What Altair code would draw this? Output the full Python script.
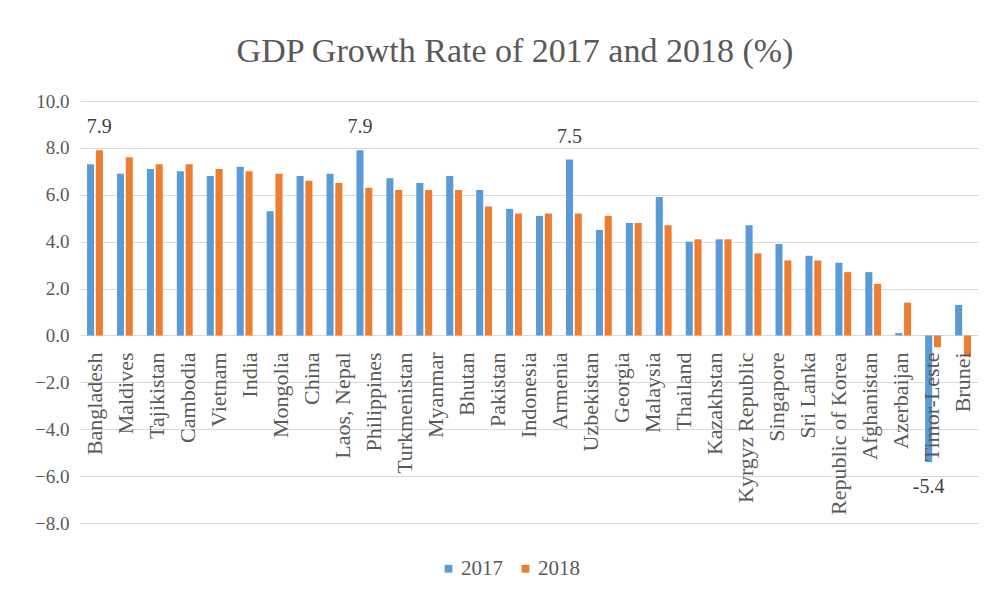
import altair as alt
import pandas as pd

countries = ["Bangladesh", "Maldives", "Tajikistan", "Cambodia", "Vietnam", "India",
             "Mongolia", "China", "Laos", "Nepal", "Philippines", "Turkmenistan",
             "Myanmar", "Bhutan", "Pakistan", "Indonesia", "Armenia", "Uzbekistan",
             "Georgia", "Malaysia", "Thailand", "Kazakhstan", "Kyrgyz Republic",
             "Singapore", "Sri Lanka", "Republic of Korea", "Afghanistan",
             "Azerbaijan", "Timor-Leste", "Brunei"]
g2017 = [7.3, 6.9, 7.1, 7.0, 6.8, 7.2, 5.3, 6.8, 6.9, 7.9, 6.7, 6.5, 6.8, 6.2, 5.4,
         5.1, 7.5, 4.5, 4.8, 5.9, 4.0, 4.1, 4.7, 3.9, 3.4, 3.1, 2.7, 0.1, -5.4, 1.3]
g2018 = [7.9, 7.6, 7.3, 7.3, 7.1, 7.0, 6.9, 6.6, 6.5, 6.3, 6.2, 6.2, 6.2, 5.5, 5.2,
         5.2, 5.2, 5.1, 4.8, 4.7, 4.1, 4.1, 3.5, 3.2, 3.2, 2.7, 2.2, 1.4, -0.5, -0.9]
labels2017 = {"Nepal": "7.9", "Armenia": "7.5", "Timor-Leste": "-5.4"}
labels2018 = {"Bangladesh": "7.9"}
years = ["2017", "2018"]
tick_labels = ["Bangladesh", "Maldives", "Tajikistan", "Cambodia", "Vietnam", "India",
               "Mongolia", "China", "Laos, Nepal", "Philippines", "Turkmenistan",
               "Myanmar", "Bhutan", "Pakistan", "Indonesia", "Armenia", "Uzbekistan",
               "Georgia", "Malaysia", "Thailand", "Kazakhstan", "Kyrgyz Republic",
               "Singapore", "Sri Lanka", "Republic of Korea", "Afghanistan",
               "Azerbaijan", "Timor-Leste", "Brunei"]
y_ticks = [-8, -6, -4, -2, 0, 2, 4, 6, 8, 10]

rows = []
for i, c in enumerate(countries):
    rows.append({"country": c, "year": "2017", "value": g2017[i], "dlabel": labels2017.get(c, "")})
    rows.append({"country": c, "year": "2018", "value": g2018[i], "dlabel": labels2018.get(c, "")})
df = pd.DataFrame(rows)
lab_df = pd.DataFrame({"catname": tick_labels})

FONT = "Times New Roman, Liberation Serif, DejaVu Serif, serif"
GRAY = "#595959"

x = alt.X("country:N", sort=countries, axis=None,
          scale=alt.Scale(domain=countries, paddingInner=0.47, paddingOuter=0.235))
xo = alt.XOffset("year:N", sort=years, scale=alt.Scale(domain=years, paddingInner=0.2))
y = alt.Y("value:Q", scale=alt.Scale(domain=[-8, 10], nice=False),
          axis=alt.Axis(title=None, values=y_ticks, format=".1f", grid=True,
                        gridColor="#d9d9d9", domain=False, ticks=False,
                        labelFont=FONT, labelFontSize=19, labelColor=GRAY,
                        labelPadding=11))
color = alt.Color("year:N", sort=years,
                  scale=alt.Scale(domain=years, range=["#5B9BD5", "#ED7D31"]),
                  legend=alt.Legend(title=None, orient="none", direction="horizontal",
                                    legendX=358, legendY=457, symbolType="square",
                                    symbolSize=60, symbolStrokeWidth=0,
                                    labelFont=FONT, labelFontSize=21, labelColor=GRAY,
                                    columnPadding=12, labelOffset=2))

bars = alt.Chart(df).mark_bar().encode(x=x, xOffset=xo, y=y, color=color)

pos_text = alt.Chart(df).transform_filter(
    "datum.dlabel != '' && datum.value > 0"
).mark_text(baseline="alphabetic", dy=-17, font=FONT, fontSize=20, color="#404040").encode(
    x=x, xOffset=xo, y=alt.Y("value:Q"), text="dlabel:N")

neg_text = alt.Chart(df).transform_filter(
    "datum.dlabel != '' && datum.value < 0"
).mark_text(baseline="top", dy=15, font=FONT, fontSize=20, color="#404040").encode(
    x=x, xOffset=xo, y=alt.Y("value:Q"), text="dlabel:N")

cat_text = alt.Chart(lab_df).mark_text(
    angle=270, align="right", baseline="middle", dx=-17,
    font=FONT, fontSize=22, color=GRAY
).encode(
    x=alt.X("catname:N", sort=tick_labels, axis=None,
            scale=alt.Scale(domain=tick_labels, paddingInner=0, paddingOuter=0)),
    y=alt.Y("zero:Q"),
    text="catname:N"
).transform_calculate(zero="0")

chart = alt.layer(bars, pos_text, neg_text, cat_text).resolve_scale(
    x="independent"
).properties(
    width=898, height=422,
    title=alt.TitleParams("GDP Growth Rate of 2017 and 2018 (%)", font=FONT,
                          fontSize=34, fontWeight="normal", color=GRAY,
                          anchor="middle", offset=23, dx=-14),
    autosize=alt.AutoSizeParams(type="none"),
    padding={"left": 80, "top": 101, "right": 16, "bottom": 71},
    background="white"
).configure_view(stroke=None)

chart.save("out.html", embed_options={"renderer": "svg", "actions": False})
